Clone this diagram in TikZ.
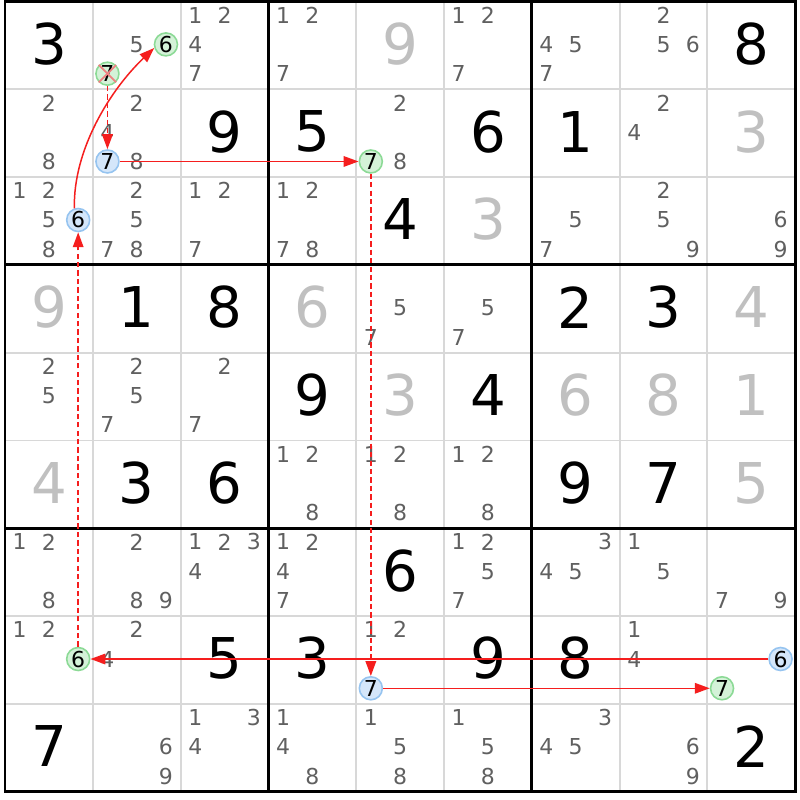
\documentclass[tikz,border=0pt]{standalone}
\usepackage{fontspec}
\setmainfont{DejaVu Sans}
\usetikzlibrary{arrows.meta}
\definecolor{thingray}{RGB}{216,216,216}
\definecolor{solvedgray}{RGB}{192,192,192}
\definecolor{candgray}{RGB}{96,96,96}
\definecolor{greenF}{RGB}{212,242,216}
\definecolor{greenB}{RGB}{140,218,150}
\definecolor{blueF}{RGB}{212,230,250}
\definecolor{blueB}{RGB}{150,196,240}
\definecolor{linkred}{RGB}{245,30,30}
\definecolor{xred}{RGB}{238,130,130}
\begin{document}
\begin{tikzpicture}[x=0.02cm,y=-0.02cm,
  thinline/.style={draw=thingray,line width=1.1pt},
  boxline/.style={draw=black,line width=1.7pt,line cap=rect},
  given/.style={inner sep=0pt,font=\fontsize{32}{32}\selectfont,text=black},
  solved/.style={inner sep=0pt,font=\fontsize{32}{32}\selectfont,text=solvedgray},
  cand/.style={inner sep=0pt,font=\fontsize{12.5}{13}\selectfont,text=candgray},
  gcirc/.style={circle,draw=greenB,fill=greenF,line width=0.9pt,minimum size=0.46cm,inner sep=0pt,font=\fontsize{12.5}{13}\selectfont,text=black},
  bcirc/.style={circle,draw=blueB,fill=blueF,line width=0.9pt,minimum size=0.46cm,inner sep=0pt,font=\fontsize{12.5}{13}\selectfont,text=black},
  strong/.style={draw=linkred,line width=0.85pt,-{Triangle[length=8.5pt,width=6pt]}},
  weak/.style={draw=linkred,line width=1pt,dash pattern=on 3pt off 1.8pt,-{Triangle[length=8.5pt,width=6pt]}},
  xmark/.style={draw=xred,line width=1pt}
]
\useasboundingbox (0,0) rectangle (800,800);
\fill[white] (0,0) rectangle (800,800);
% thin cell lines
\foreach \i in {1,2,4,5,7,8}{
  \draw[thinline] ({5+\i*87.8},1.5) -- ({5+\i*87.8},791.7);
  \draw[thinline] (5,{1.5+\i*87.8}) -- (795.2,{1.5+\i*87.8});
}
% box lines
\foreach \i in {3,6}{
  \draw[boxline] ({5+\i*87.8},1.5) -- ({5+\i*87.8},791.7);
  \draw[boxline] (5,{1.5+\i*87.8}) -- (795.2,{1.5+\i*87.8});
}
\draw[boxline] (5,1.5) rectangle (795.2,791.7);
% given digits
\foreach \r/\c/\d in {1/1/3,1/9/8,2/3/9,2/4/5,2/6/6,2/7/1,3/5/4,4/2/1,4/3/8,4/7/2,4/8/3,5/4/9,5/6/4,6/2/3,6/3/6,6/7/9,6/8/7,7/5/6,8/3/5,8/4/3,8/6/9,8/7/8,9/1/7,9/9/2}{
  \node[given] (g\r\c) at ({5+(\c-0.5)*87.8},{1.5+(\r-0.5)*87.8-1.5}) {\d};
}
% solved digits
\foreach \r/\c/\d in {1/5/9,2/9/3,3/6/3,4/1/9,4/4/6,4/9/4,5/5/3,5/7/6,5/8/8,5/9/1,6/1/4,6/9/5}{
  \node[solved] (s\r\c) at ({5+(\c-0.5)*87.8},{1.5+(\r-0.5)*87.8-1.5}) {\d};
}
% candidates
\foreach \r/\c/\d in {
 1/2/5,1/3/1,1/3/2,1/3/4,1/3/7,1/4/1,1/4/2,1/4/7,1/6/1,1/6/2,1/6/7,1/7/4,1/7/5,1/7/7,1/8/2,1/8/5,1/8/6,
 2/1/2,2/1/8,2/2/2,2/2/4,2/2/8,2/5/2,2/5/8,2/8/2,2/8/4,
 3/1/1,3/1/2,3/1/5,3/1/8,3/2/2,3/2/5,3/2/7,3/2/8,3/3/1,3/3/2,3/3/7,3/4/1,3/4/2,3/4/7,3/4/8,3/7/5,3/7/7,3/8/2,3/8/5,3/8/9,3/9/6,3/9/9,
 4/5/5,4/5/7,4/6/5,4/6/7,
 5/1/2,5/1/5,5/2/2,5/2/5,5/2/7,5/3/2,5/3/7,
 6/4/1,6/4/2,6/4/8,6/5/1,6/5/2,6/5/8,6/6/1,6/6/2,6/6/8,
 7/1/1,7/1/2,7/1/8,7/2/2,7/2/8,7/2/9,7/3/1,7/3/2,7/3/3,7/3/4,7/4/1,7/4/2,7/4/4,7/4/7,7/6/1,7/6/2,7/6/5,7/6/7,7/7/3,7/7/4,7/7/5,7/8/1,7/8/5,7/9/7,7/9/9,
 8/1/1,8/1/2,8/2/2,8/2/4,8/5/1,8/5/2,8/8/1,8/8/4,
 9/2/6,9/2/9,9/3/1,9/3/3,9/3/4,9/4/1,9/4/4,9/4/8,9/5/1,9/5/5,9/5/8,9/6/1,9/6/5,9/6/8,9/7/3,9/7/4,9/7/5,9/8/6,9/8/9}{
  \node[cand] (c\r\c\d) at ({5+(\c-1)*87.8+(mod(\d-1,3)+0.5)*29.27},{1.5+(\r-1)*87.8+(div(\d-1,3)+0.5)*29.27-1}) {\d};
}
% highlighted candidates
\foreach \r/\c/\d/\s in {1/2/6/gcirc,1/2/7/gcirc,2/2/7/bcirc,2/5/7/gcirc,3/1/6/bcirc,8/1/6/gcirc,8/5/7/bcirc,8/9/6/bcirc,8/9/7/gcirc}{
  \node[\s] (h\r\c\d) at ({5+(\c-1)*87.8+(mod(\d-1,3)+0.5)*29.27},{1.5+(\r-1)*87.8+(div(\d-1,3)+0.5)*29.27-1}) {\d};
}
% elimination mark
\draw[xmark] (h127.45) -- (h127.225) (h127.135) -- (h127.315);
% chain
\draw[weak] (h127) -- (h227);
\draw[strong] (h227) -- (h257);
\draw[weak] (h257) -- (h857);
\draw[strong] (h857) -- (h897);
\draw[strong] (h896) -- (h816);
\draw[weak] (h816) -- (h316);
\draw[strong] (h316.108) .. controls (73,150) and (110,90) .. (h126.197);
\end{tikzpicture}
\end{document}
